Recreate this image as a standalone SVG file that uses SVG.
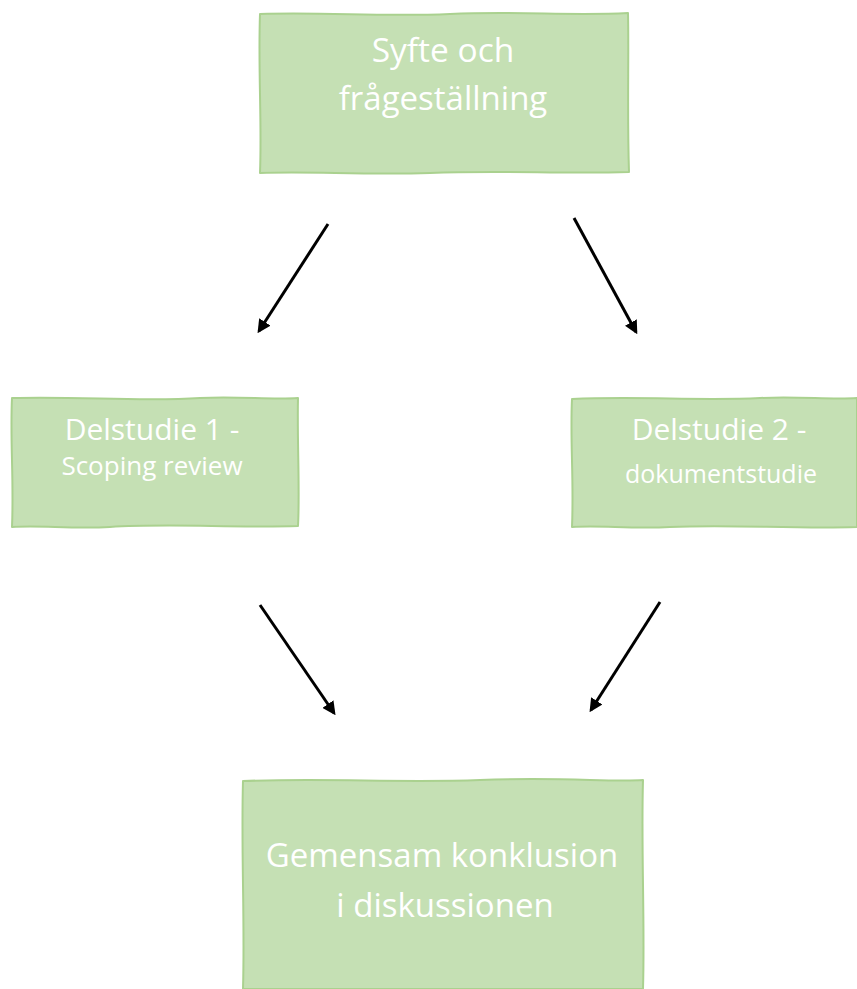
<svg xmlns="http://www.w3.org/2000/svg" width="857" height="989" viewBox="0 0 857 989">
<style>
.box{fill:#c5e0b4;stroke:#aad18f;stroke-width:2;stroke-linejoin:round}
.t{fill:#ffffff;font-family:"Open Sans","Liberation Sans",sans-serif;text-anchor:middle}
.c{stroke:#000;stroke-width:3;fill:none;marker-end:url(#ah)}
</style>
<defs>
<marker id="ah" viewBox="0 0 10 10" refX="8" refY="5" markerWidth="4.5" markerHeight="4.5" orient="auto" markerUnits="strokeWidth">
<path d="M0,0 L10,5 L0,10 z" fill="#000"/>
</marker>
</defs>
<rect width="857" height="989" fill="#fff"/>
<g id="node-syfte">
<path class="box" d="M260,14 C330,12 380,17 450,14 C520,11 570,16 628,13 C629,60 627,110 629,172 C560,174 500,170 430,173 C360,175 310,171 260,173 C262,120 258,70 260,14 Z"/>
<text class="t" font-size="33.5" x="443" y="62">Syfte och</text>
<text class="t" font-size="33" x="443" y="110">frågeställning</text>
</g>
<g id="node-delstudie1">
<path class="box" d="M12,398 C80,396 140,402 200,398 C240,396 270,400 298,398 C297,440 300,490 298,526 C230,528 170,523 110,527 C70,529 40,525 12,527 C14,480 10,440 12,398 Z"/>
<text class="t" font-size="30" x="152" y="440">Delstudie 1 -</text>
<text class="t" font-size="26" x="152" y="475">Scoping review</text>
</g>
<g id="node-delstudie2">
<path class="box" d="M572,399 C640,396 700,401 760,398 C800,396 830,400 857,398 L857,527 C790,529 730,524 670,527 C630,529 600,525 572,527 C574,480 570,440 572,399 Z"/>
<text class="t" font-size="30" x="719" y="440">Delstudie 2 -</text>
<text class="t" font-size="25" x="721" y="483">dokumentstudie</text>
</g>
<g id="node-gemensam">
<path class="box" d="M243,781 C330,778 400,783 480,780 C560,777 610,782 643,780 C641,850 645,920 643,989 L243,989 C245,920 241,850 243,781 Z"/>
<text class="t" font-size="33" x="442" y="867">Gemensam konklusion</text>
<text class="t" font-size="33" x="445" y="917">i diskussionen</text>
</g>
<g id="connectors">
<line class="c" x1="328" y1="224" x2="259" y2="331"/>
<line class="c" x1="574" y1="218" x2="636" y2="332"/>
<line class="c" x1="260" y1="605" x2="334" y2="713"/>
<line class="c" x1="660" y1="602" x2="591" y2="710"/>
</g>
</svg>
